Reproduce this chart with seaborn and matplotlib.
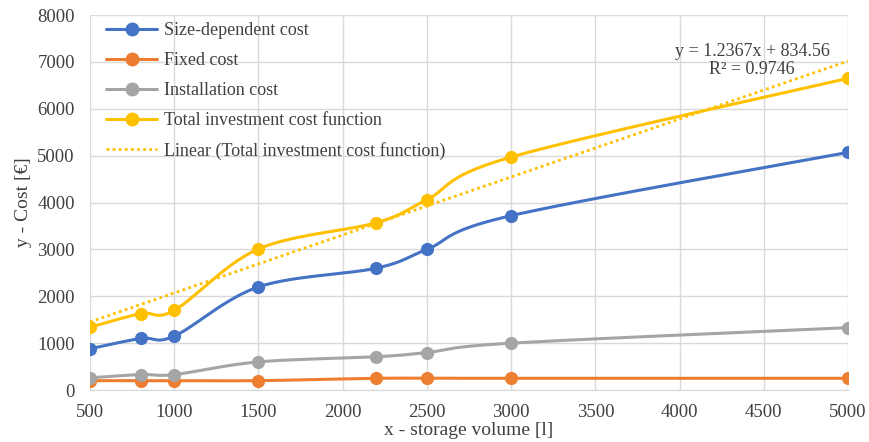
import numpy as np
import pandas as pd
import matplotlib
matplotlib.use("Agg")
import matplotlib.pyplot as plt
from matplotlib.lines import Line2D
import seaborn as sns

# data
volume = [500, 800, 1000, 1500, 2200, 2500, 3000, 5000]
size_cost = [880, 1100, 1150, 2200, 2600, 3000, 3720, 5070]
fixed_cost = [200, 200, 200, 200, 250, 250, 250, 250]
install_cost = [260, 330, 330, 600, 710, 800, 1000, 1330]
total_cost = [1340, 1630, 1700, 3010, 3570, 4060, 4970, 6650]
trend_slope = 1.2367
trend_icept = 834.56
trend_r2 = 0.9746

series_names = ["Size-dependent cost", "Fixed cost", "Installation cost",
                "Total investment cost function"]
series_vals = [size_cost, fixed_cost, install_cost, total_cost]
colors = ["#4472C4", "#ED7D31", "#A5A5A5", "#FFC000"]


def smooth(xs, ys, n=30):
    # excel-like smoothed line (catmull-rom style bezier)
    x = np.array(xs, float)
    y = np.array(ys, float)
    px = np.concatenate([[x[0]], x, [x[-1]]])
    py = np.concatenate([[y[0]], y, [y[-1]]])
    outx, outy = [], []
    t = np.linspace(0, 1, n)
    for i in range(1, len(px) - 2):
        p0 = np.array([px[i], py[i]])
        p3 = np.array([px[i + 1], py[i + 1]])
        c1 = p0 + (p3 - np.array([px[i - 1], py[i - 1]])) / 6
        c2 = p3 - (np.array([px[i + 2], py[i + 2]]) - p0) / 6
        b = ((1 - t) ** 3)[:, None] * p0 + (3 * (1 - t) ** 2 * t)[:, None] * c1 \
            + (3 * (1 - t) * t ** 2)[:, None] * c2 + (t ** 3)[:, None] * p3
        outx.extend(b[:, 0])
        outy.extend(b[:, 1])
    return outx, outy


sns.set_style("white")
plt.rcParams["font.family"] = ["Liberation Serif", "DejaVu Serif"]

fig, ax = plt.subplots(figsize=(8.69, 4.42), dpi=100)
fig.subplots_adjust(left=0.1036, right=0.9758, bottom=0.1176, top=0.966)

for name, vals, col in zip(series_names, series_vals, colors):
    sx, sy = smooth(volume, vals)
    curve = pd.DataFrame({"x": sx, "y": sy})
    sns.lineplot(data=curve, x="x", y="y", sort=False, estimator=None,
                 color=col, lw=2.2, ax=ax, zorder=3)
    pts = pd.DataFrame({"x": volume, "y": vals})
    sns.scatterplot(data=pts, x="x", y="y", color=col, s=90,
                    edgecolor=col, linewidth=0, ax=ax, zorder=4)

tx = np.array([volume[0], volume[-1]], float)
ax.plot(tx, trend_slope * tx + trend_icept, ls=(0, (1, 1.2)), color="#FFC000",
        lw=2, zorder=3)

ax.text(4430, 7030, "y = %.4fx + %.2f\nR² = %.4f" % (trend_slope, trend_icept, trend_r2),
        ha="center", va="center", multialignment="center", fontsize=13,
        color="#404040", linespacing=1.05)

ax.set_xlim(500, 5000)
ax.set_ylim(0, 8000)
ax.set_xticks(np.arange(500, 5001, 500))
ax.set_yticks(np.arange(0, 8001, 1000))
ax.grid(True, color="#d9d9d9", lw=1)
for s in ["top", "right", "left"]:
    ax.spines[s].set_visible(False)
ax.spines["bottom"].set_color("#d9d9d9")
ax.tick_params(axis="both", labelsize=13.5, colors="#404040", length=0)
ax.tick_params(axis="x", pad=10)
ax.tick_params(axis="y", pad=11)
ax.set_xlabel("x - storage volume [l]", fontsize=14, color="#404040", labelpad=1)
ax.set_ylabel("y - Cost [€]", fontsize=14, color="#404040", labelpad=4)

handles = [Line2D([0], [0], color=c, lw=2.2, marker="o", markersize=9) for c in colors]
handles.append(Line2D([0], [0], color="#FFC000", lw=2, ls=(0, (1, 1.2))))
labels = series_names + ["Linear (Total investment cost function)"]
ax.legend(handles, labels, loc="upper left", bbox_to_anchor=(0.0, 1.025), frameon=False,
          fontsize=13, handlelength=2.8, labelspacing=0.72, labelcolor="#404040",
          borderaxespad=0.5, handletextpad=0.4)

fig.savefig("out.png", dpi=100)
